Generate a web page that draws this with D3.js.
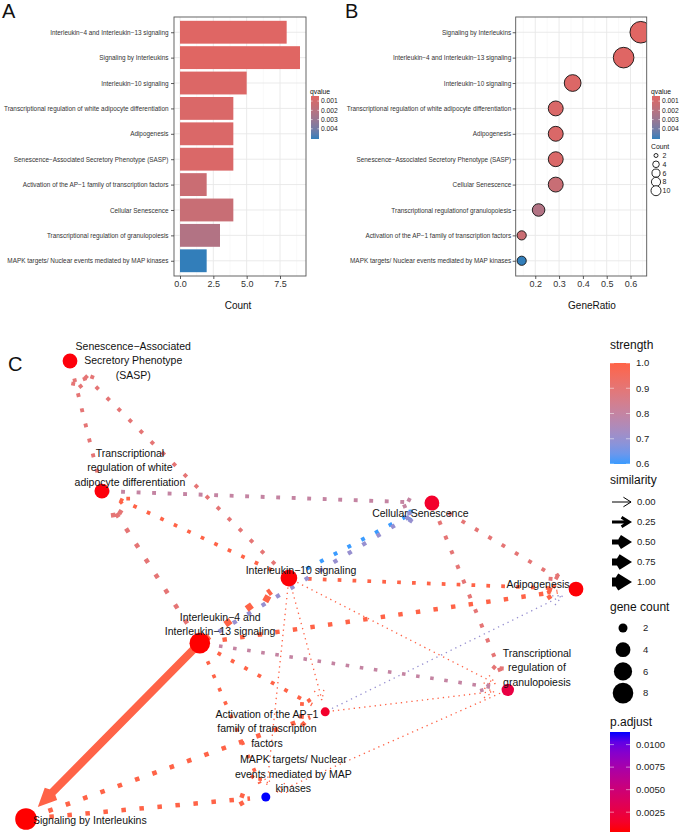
<!DOCTYPE html>
<html>
<head>
<meta charset="utf-8">
<script src="https://cdn.jsdelivr.net/npm/d3@7"></script>
<style>
  body { margin: 0; background: #fff; }
</style>
</head>
<body>
<div id="chart"></div>
<script>
// DATA — PANEL A (bars, top to bottom)
const barTerms = [
  "Interleukin−4 and Interleukin−13 signaling",
  "Signaling by Interleukins",
  "Interleukin−10 signaling",
  "Transcriptional regulation of white adipocyte differentiation",
  "Adipogenesis",
  "Senescence−Associated Secretory Phenotype (SASP)",
  "Activation of the AP−1 family of transcription factors",
  "Cellular Senescence",
  "Transcriptional regulation of granulopoiesis",
  "MAPK targets/ Nuclear events mediated by MAP kinases"
];
const barCounts = [8, 9, 5, 4, 4, 4, 2, 4, 3, 2];
const barQvalues = [0.00048, 0.00045, 0.0006, 0.0007, 0.0007, 0.0007, 0.0013, 0.0014, 0.0022, 0.0051];

// DATA — PANEL B (dots, top to bottom)
const dotTerms = [
  "Signaling by Interleukins",
  "Interleukin−4 and Interleukin−13 signaling",
  "Interleukin−10 signaling",
  "Transcriptional regulation of white adipocyte differentiation",
  "Adipogenesis",
  "Senescence−Associated Secretory Phenotype (SASP)",
  "Cellular Senescence",
  "Transcriptional regulationof granulopoiesis",
  "Activation of the AP−1 family of transcription factors",
  "MAPK targets/ Nuclear events mediated by MAP kinases"
];
const dotRatios = [0.643, 0.571, 0.357, 0.286, 0.286, 0.286, 0.286, 0.214, 0.143, 0.143];
const dotCounts = [9, 8, 5, 4, 4, 4, 4, 3, 2, 2];
const dotQvalues = [0.00045, 0.00048, 0.0006, 0.0007, 0.0007, 0.0007, 0.0014, 0.0022, 0.0013, 0.0051];

const countTicksA = [0, 2.5, 5, 7.5];
const ratioTicks = [0.2, 0.3, 0.4, 0.5, 0.6];
const qTicks = [0.001, 0.002, 0.003, 0.004];
const countLegend = [2, 4, 6, 8, 10];

// DATA — PANEL C (network, layout coordinates)
const nodeIds = ["SASP", "whiteAdipo", "cellSen", "IL10", "adipogenesis", "IL4", "granulo", "AP1", "MAPK", "SigIL"];
const nodeLabels = [
  ["Senescence−Associated", "Secretory Phenotype", "(SASP)"],
  ["Transcriptional", "regulation of white", "adipocyte differentiation"],
  ["Cellular Senescence"],
  ["Interleukin−10 signaling"],
  ["Adipogenesis"],
  ["Interleukin−4 and", "Interleukin−13 signaling"],
  ["Transcriptional", "regulation of", "granulopoiesis"],
  ["Activation of the AP−1", "family of transcription", "factors"],
  ["MAPK targets/ Nuclear", "events mediated by MAP", "kinases"],
  ["Signaling by Interleukins"]
];
const nodeX = [0.80, 1.38, 7.38, 4.78, 10.00, 3.16, 8.76, 5.44, 4.36, 0.00];
const nodeY = [10.00, 7.16, 6.90, 5.26, 5.02, 3.84, 2.82, 2.34, 0.48, 0.00];
const nodeGenes = [4, 4, 4, 5, 4, 8, 3, 2, 2, 9];
const nodePadj = [0.0005, 0.0005, 0.0015, 0.0004, 0.0004, 0.0003, 0.0025, 0.0015, 0.0114, 0.0003];
const labelX = [1.95, 1.89, 7.17, 5.00, 9.31, 3.53, 9.29, 4.38, 4.86, 1.16];
const labelY = [10.01, 7.67, 6.68, 5.44, 5.13, 4.25, 3.31, 1.97, 0.98, -0.02];

const edgeSource = ["whiteAdipo", "IL10", "IL4", "IL10", "whiteAdipo", "IL10", "IL4", "IL4", "IL10", "IL4", "cellSen", "cellSen",
  "IL4", "IL10", "IL10", "IL10", "AP1", "AP1", "granulo", "IL4", "IL4", "SigIL", "SigIL", "IL4"];
const edgeTarget = ["SASP", "SASP", "whiteAdipo", "whiteAdipo", "cellSen", "cellSen", "cellSen", "IL10", "adipogenesis", "adipogenesis", "adipogenesis", "granulo",
  "granulo", "granulo", "AP1", "MAPK", "adipogenesis", "granulo", "MAPK", "AP1", "MAPK", "AP1", "MAPK", "SigIL"];
const edgeSimilarity = [0.36, 0.36, 0.44, 0.34, 0.36, 0.36, 0.40, 0.70, 0.34, 0.43, 0.36, 0.37,
  0.32, 0.04, 0.04, 0.04, 0.04, 0.04, 0.04, 0.35, 0.33, 0.45, 0.44, 0.88];
const edgeStrength = [0.9, 0.9, 0.9, 1.0, 0.8, 0.6, 0.7, 1.0, 1.0, 1.0, 0.9, 0.9,
  0.8, 1.0, 1.0, 1.0, 0.7, 1.0, 1.0, 1.0, 1.0, 1.0, 1.0, 1.0];

const strengthTicks = [0.6, 0.7, 0.8, 0.9, 1.0];
const similarityTicks = [0, 0.25, 0.5, 0.75, 1];
const geneTicks = [2, 4, 6, 8];
const padjTicks = [0.0025, 0.005, 0.0075, 0.01];

// SETUP
const W = 685, H = 836;
const FONT = '"Liberation Sans", Arial, Helvetica, sans-serif';
const svg = d3.select("#chart").append("svg")
  .attr("width", W)
  .attr("height", H)
  .style("font-family", FONT);
svg.append("rect").attr("width", W).attr("height", H).attr("fill", "#fff");
const defs = svg.append("defs");

const qMin = 0.00045, qMax = 0.0051;
const qColor = d3.scaleLinear().domain([qMin, qMax])
  .range(["#e06663", "#327eba"]).interpolate(d3.interpolateLab);
const dotSize = d3.scaleLog().domain([2, 9]).range([4.6, 10.8]);
const dotLegendSize = d3.scaleLog().domain([2, 10]).range([2, 5]);

const panelTop = 17, panelBottom = 276;

function styleAxis(g, fs) {
  g.select(".domain").remove();
  g.selectAll(".tick line").attr("stroke", "#333").attr("stroke-width", 0.8);
  g.selectAll(".tick text").attr("fill", "#333").attr("font-size", fs).attr("font-family", FONT);
}

function drawGrid(g, x, y, major, minor) {
  const [l, r] = x.range();
  g.append("rect").attr("x", l).attr("y", panelTop).attr("width", r - l)
    .attr("height", panelBottom - panelTop).attr("fill", "#fff");
  g.selectAll(".minor").data(minor).join("line")
    .attr("x1", d => x(d)).attr("x2", d => x(d))
    .attr("y1", panelTop).attr("y2", panelBottom)
    .attr("stroke", "#F3F3F3").attr("stroke-width", 0.5);
  g.selectAll(".major").data(major).join("line")
    .attr("x1", d => x(d)).attr("x2", d => x(d))
    .attr("y1", panelTop).attr("y2", panelBottom)
    .attr("stroke", "#E8E8E8").attr("stroke-width", 0.9);
  g.selectAll(".hline").data(y.domain()).join("line")
    .attr("x1", l).attr("x2", r)
    .attr("y1", d => y(d)).attr("y2", d => y(d))
    .attr("stroke", "#E8E8E8").attr("stroke-width", 0.9);
}

function drawBorder(g, x) {
  const [l, r] = x.range();
  g.append("rect").attr("x", l).attr("y", panelTop).attr("width", r - l)
    .attr("height", panelBottom - panelTop)
    .attr("fill", "none").attr("stroke", "#555").attr("stroke-width", 0.9);
}

function qLegend(x0) {
  const g = svg.append("g");
  const qY = d3.scaleLinear().domain([qMin, qMax]).range([96, 139]);
  const id = "qgrad" + x0;
  const grad = defs.append("linearGradient").attr("id", id)
    .attr("x1", 0).attr("y1", 0).attr("x2", 0).attr("y2", 1);
  d3.range(0, 1.01, 0.1).forEach(t => {
    grad.append("stop").attr("offset", t).attr("stop-color", qColor(qMin + t * (qMax - qMin)));
  });
  g.append("text").attr("x", x0 - 1).attr("y", 92).attr("dy", "0.35em")
    .attr("font-size", 6.8).attr("fill", "#111").text("qvalue");
  g.append("rect").attr("x", x0).attr("y", qY(qMin)).attr("width", 8)
    .attr("height", qY(qMax) - qY(qMin)).attr("fill", `url(#${id})`);
  qTicks.forEach(t => {
    g.append("line").attr("x1", x0).attr("x2", x0 + 1.6).attr("y1", qY(t)).attr("y2", qY(t))
      .attr("stroke", "#fff").attr("stroke-width", 0.6);
    g.append("line").attr("x1", x0 + 6.4).attr("x2", x0 + 8).attr("y1", qY(t)).attr("y2", qY(t))
      .attr("stroke", "#fff").attr("stroke-width", 0.6);
    g.append("text").attr("x", x0 + 10).attr("y", qY(t)).attr("dy", "0.35em")
      .attr("font-size", 6.7).attr("fill", "#222").text(d3.format(".3f")(t));
  });
  return g;
}

// PANEL A — BARS
const aX = d3.scaleLinear().domain([-0.45, 9.45]).range([174, 306]);
const aY = d3.scalePoint().domain(barTerms).range([panelTop, panelBottom]).padding(0.6);
const gA = svg.append("g");
drawGrid(gA, aX, aY, countTicksA, countTicksA.map(d => d + 1.25));

gA.selectAll(".bar").data(barTerms).join("rect")
  .attr("x", aX(0))
  .attr("y", d => aY(d) - aY.step() * 0.45)
  .attr("width", (d, i) => aX(barCounts[i]) - aX(0))
  .attr("height", aY.step() * 0.9)
  .attr("fill", (d, i) => qColor(barQvalues[i]));
drawBorder(gA, aX);

styleAxis(svg.append("g").attr("transform", `translate(0,${panelBottom})`)
  .call(d3.axisBottom(aX).tickValues(countTicksA).tickFormat(d3.format(".1f")).tickSize(3).tickPadding(2)), 9);
styleAxis(svg.append("g").attr("transform", `translate(${aX.range()[0]},0)`)
  .call(d3.axisLeft(aY).tickSize(3).tickPadding(2.5)), 6.4);

svg.append("text").attr("x", 238).attr("y", 309).attr("text-anchor", "middle")
  .attr("font-size", 10).attr("fill", "#111").text("Count");
qLegend(311);

// PANEL B — DOTS
const bX = d3.scaleLinear().domain([0.1179, 0.6679]).range([515.7, 646.7]);
const bY = d3.scalePoint().domain(dotTerms).range([panelTop, panelBottom]).padding(0.6);
const gB = svg.append("g");
drawGrid(gB, bX, bY, ratioTicks, [0.15, 0.25, 0.35, 0.45, 0.55, 0.65]);

defs.append("clipPath").attr("id", "clipB").append("rect")
  .attr("x", 515.7).attr("y", panelTop).attr("width", 131).attr("height", panelBottom - panelTop);

gB.append("g").attr("clip-path", "url(#clipB)")
  .selectAll("circle").data(dotTerms).join("circle")
  .attr("cx", (d, i) => bX(dotRatios[i]))
  .attr("cy", d => bY(d))
  .attr("r", (d, i) => dotSize(dotCounts[i]))
  .attr("fill", (d, i) => qColor(dotQvalues[i]))
  .attr("stroke", "#111").attr("stroke-width", 0.9);
drawBorder(gB, bX);

styleAxis(svg.append("g").attr("transform", `translate(0,${panelBottom})`)
  .call(d3.axisBottom(bX).tickValues(ratioTicks).tickFormat(d3.format(".1f")).tickSize(3).tickPadding(2)), 9);
styleAxis(svg.append("g").attr("transform", `translate(${bX.range()[0]},0)`)
  .call(d3.axisLeft(bY).tickSize(3).tickPadding(1.5)), 6.4);

svg.append("text").attr("x", 592).attr("y", 309).attr("text-anchor", "middle")
  .attr("font-size", 10).attr("fill", "#111").text("GeneRatio");
qLegend(652);

// B COUNT LEGEND
const cntG = svg.append("g");
cntG.append("text").attr("x", 651).attr("y", 147).attr("dy", "0.35em")
  .attr("font-size", 6.8).attr("fill", "#111").text("Count");
countLegend.forEach((c, i) => {
  const y = 155.5 + i * 8.8;
  cntG.append("circle").attr("cx", 656).attr("cy", y).attr("r", dotLegendSize(c))
    .attr("fill", "#fff").attr("stroke", "#111").attr("stroke-width", 0.9);
  cntG.append("text").attr("x", 662.5).attr("y", y).attr("dy", "0.35em")
    .attr("font-size", 7).attr("fill", "#222").text(c);
});

// PANEL LETTERS
[["A", 2, 18], ["B", 345, 18], ["C", 8, 371]].forEach(([t, x, y]) => {
  svg.append("text").attr("x", x).attr("y", y).attr("font-size", 20).attr("fill", "#111").text(t);
});

// PANEL C — NETWORK
const cx = d3.scaleLinear().domain([0, 10]).range([26, 576]);
const cy = d3.scaleLinear().domain([0, 10]).range([819, 361]);
const nodeR = d3.scaleLog().domain([2, 9]).range([4.5, 10.8]);
const pMin = 0.0003, pMax = 0.0114;
const pColor = d3.scaleLinear().domain([pMin, pMax]).range(["red", "blue"]).interpolate(d3.interpolateLab);
const sColor = d3.scaleLinear().domain([0.6, 1]).range(["#3A9BFF", "#FF6347"]).interpolate(d3.interpolateLab);
const edgeW = d3.scaleLinear().domain([0, 1]).range([1, 9]);

const HEAD = 12, ANGLE = 25 * Math.PI / 180;

function arrowPath(x1, y1, x2, y2, head, angle) {
  const a = Math.atan2(y2 - y1, x2 - x1);
  const ax1 = x2 - head * Math.cos(a - angle), ay1 = y2 - head * Math.sin(a - angle);
  const ax2 = x2 - head * Math.cos(a + angle), ay2 = y2 - head * Math.sin(a + angle);
  return `M${x1},${y1}L${x2},${y2}M${ax1},${ay1}L${x2},${y2}L${ax2},${ay2}`;
}

const nodes = nodeIds.map((id, i) => ({
  id, lines: nodeLabels[i], x: cx(nodeX[i]), y: cy(nodeY[i]),
  r: nodeR(nodeGenes[i]), p: nodePadj[i], lx: cx(labelX[i]), ly: cy(labelY[i])
}));
const byId = new Map(nodes.map(n => [n.id, n]));

const edges = edgeSource.map((s, i) => ({
  source: byId.get(s), target: byId.get(edgeTarget[i]),
  sim: edgeSimilarity[i], strength: edgeStrength[i]
})).sort((a, b) => a.sim - b.sim);

const gC = svg.append("g");

gC.selectAll(".edge").data(edges).join("path")
  .attr("d", e => {
    const dx = e.target.x - e.source.x, dy = e.target.y - e.source.y;
    const len = Math.hypot(dx, dy), ux = dx / len, uy = dy / len;
    const w = edgeW(e.sim);
    const rs = e.source.r * 0.5;
    const rt = e.target.r + 6 + (w / 2) / Math.sin(ANGLE);
    return arrowPath(e.source.x + ux * rs, e.source.y + uy * rs,
      e.target.x - ux * rt, e.target.y - uy * rt, HEAD, ANGLE);
  })
  .attr("fill", "none")
  .attr("stroke", e => sColor(e.strength))
  .attr("stroke-width", e => edgeW(e.sim))
  .attr("stroke-linecap", "butt")
  .attr("stroke-linejoin", "miter")
  .attr("stroke-dasharray", e => e.sim > 0.8 ? null : `${edgeW(e.sim)} ${3 * edgeW(e.sim)}`);

gC.selectAll(".node").data(nodes).join("circle")
  .attr("cx", d => d.x).attr("cy", d => d.y).attr("r", d => d.r)
  .attr("fill", d => pColor(d.p));

nodes.forEach(n => {
  const t = gC.append("text").attr("text-anchor", "middle")
    .attr("font-size", 10.5).attr("fill", "#111");
  n.lines.forEach((line, i) => {
    t.append("tspan").attr("x", n.lx)
      .attr("y", n.ly + (i - (n.lines.length - 1) / 2) * 14.5)
      .attr("dy", "0.35em").text(line);
  });
});

// C LEGENDS
const lg = svg.append("g");
const LX = 610;

function colorbar(id, scale, y0, y1, domain, ticks, fmt) {
  const bar = d3.scaleLinear().domain(domain).range([y1, y0]);
  const grad = defs.append("linearGradient").attr("id", id)
    .attr("x1", 0).attr("y1", 1).attr("x2", 0).attr("y2", 0);
  d3.range(0, 1.01, 0.1).forEach(t => {
    grad.append("stop").attr("offset", t).attr("stop-color", scale(domain[0] + t * (domain[1] - domain[0])));
  });
  lg.append("rect").attr("x", LX).attr("y", y0).attr("width", 20).attr("height", y1 - y0)
    .attr("fill", `url(#${id})`);
  ticks.forEach(t => {
    lg.append("line").attr("x1", LX).attr("x2", LX + 4).attr("y1", bar(t)).attr("y2", bar(t))
      .attr("stroke", "#fff").attr("stroke-opacity", 0.7).attr("stroke-width", 0.7);
    lg.append("line").attr("x1", LX + 16).attr("x2", LX + 20).attr("y1", bar(t)).attr("y2", bar(t))
      .attr("stroke", "#fff").attr("stroke-opacity", 0.7).attr("stroke-width", 0.7);
    lg.append("text").attr("x", LX + 26).attr("y", bar(t)).attr("dy", "0.35em")
      .attr("font-size", 9.5).attr("fill", "#222").text(fmt(t));
  });
}

function legendTitle(text, y) {
  lg.append("text").attr("x", LX).attr("y", y).attr("dy", "0.35em")
    .attr("font-size", 12).attr("fill", "#111").text(text);
}

legendTitle("strength", 345);
colorbar("sgrad", sColor, 363, 464, [0.6, 1], strengthTicks, d3.format(".1f"));

legendTitle("similarity", 480);
const LANGLE = 32 * Math.PI / 180;
similarityTicks.forEach((s, i) => {
  const y = 502 + i * 20;
  const w = edgeW(s);
  const tip = 632 - (w / 2) / Math.sin(LANGLE);
  lg.append("path").attr("d", arrowPath(612, y, tip, y, 9, LANGLE))
    .attr("fill", "none").attr("stroke", "#000").attr("stroke-width", w)
    .attr("stroke-linejoin", "miter").attr("stroke-linecap", "butt");
  lg.append("text").attr("x", LX + 27).attr("y", y).attr("dy", "0.35em")
    .attr("font-size", 9.5).attr("fill", "#222").text(d3.format(".2f")(s));
});

legendTitle("gene count", 607);
geneTicks.forEach((g, i) => {
  const y = 628 + i * 21.7;
  lg.append("circle").attr("cx", 623).attr("cy", y).attr("r", nodeR(g)).attr("fill", "#000");
  lg.append("text").attr("x", 643).attr("y", y).attr("dy", "0.35em")
    .attr("font-size", 9.5).attr("fill", "#222").text(g);
});

legendTitle("p.adjust", 722);
colorbar("pgrad", pColor, 732, 832, [pMin, pMax], padjTicks, d3.format(".4f"));
</script>
</body>
</html>
